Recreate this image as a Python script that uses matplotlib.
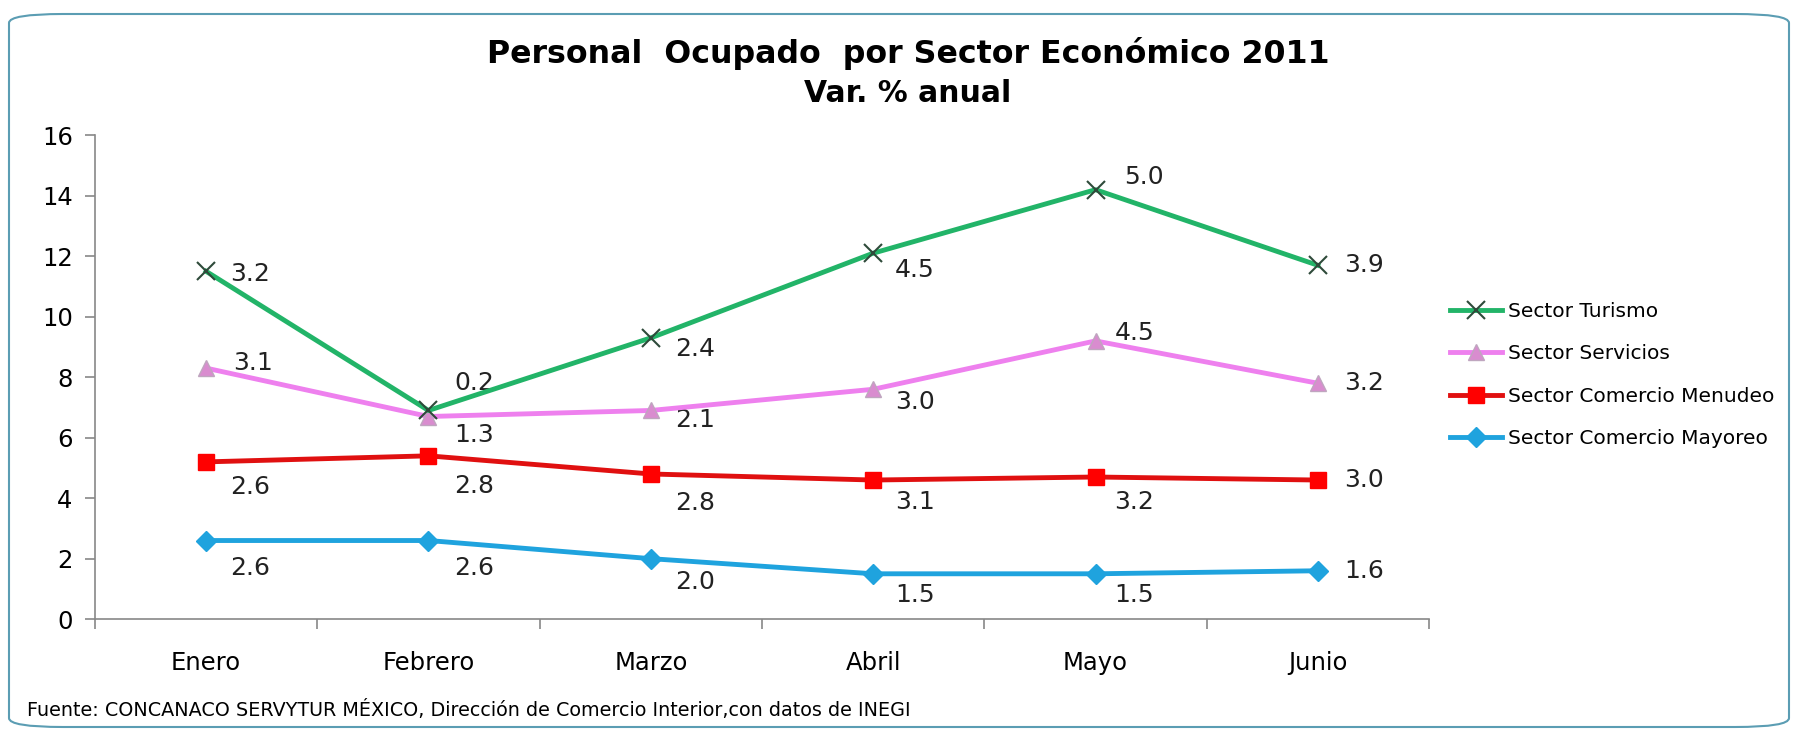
"""Personal ocupado por sector economico 2011 - stacked line chart (var. % anual)."""

import matplotlib

matplotlib.use("Agg")
import matplotlib.pyplot as plt
import numpy as np
from matplotlib.patches import FancyBboxPatch

months = ["Enero", "Febrero", "Marzo", "Abril", "Mayo", "Junio"]

# series in stacking order (bottom first)
mayoreo = [2.6, 2.6, 2.0, 1.5, 1.5, 1.6]
menudeo = [2.6, 2.8, 2.8, 3.1, 3.2, 3.0]
servicios = [3.1, 1.3, 2.1, 3.0, 4.5, 3.2]
turismo = [3.2, 0.2, 2.4, 4.5, 5.0, 3.9]

series_names = ["Sector Comercio Mayoreo", "Sector Comercio Menudeo",
                "Sector Servicios", "Sector Turismo"]

title = "Personal  Ocupado  por Sector Económico 2011"
subtitle = "Var. % anual"
source = "Fuente: CONCANACO SERVYTUR MÉXICO, Dirección de Comercio Interior,con datos de INEGI"


def main() -> None:
    values = np.array([mayoreo, menudeo, servicios, turismo])
    stacked = np.cumsum(values, axis=0)
    x = np.arange(len(months)) + 0.5

    fig = plt.figure(figsize=(17.98, 7.31), dpi=100)
    ax = fig.add_axes([0.0528, 0.153, 0.742, 0.662])

    styles = [
        dict(color="#1FA3DE", marker="D", ms=10, mfc="#1FA3DE", mec="#1FA3DE"),
        dict(color="#E01010", marker="s", ms=12, mfc="#FF0000", mec="#FF0000"),
        dict(color="#EE80EE", marker="^", ms=12, mfc="#D98CCF", mec="#BFA6BF"),
        dict(color="#22B468", marker="x", ms=13, mec="#2E4A3A", mew=1.5),
    ]
    # label offsets in points (dx, dy) per series, per month
    offsets = [
        [(32, -20), (33, -20), (32, -17), (30, -15), (28, -15), (33, 0)],
        [(32, -18), (33, -22), (32, -21), (30, -16), (28, -18), (33, 0)],
        [(34, 4), (33, -13), (32, -7), (30, -9), (28, 6), (33, 0)],
        [(32, -2), (33, 20), (32, -8), (30, -12), (35, 9), (33, 0)],
    ]

    handles = []
    for i in range(len(values)):
        (h,) = ax.plot(x, stacked[i], lw=3.5, label=series_names[i], zorder=3 + i,
                       **styles[i])
        handles.append(h)
        for j in range(len(months)):
            ax.annotate(f"{values[i][j]:.1f}", (x[j], stacked[i][j]),
                        xytext=offsets[i][j], textcoords="offset points",
                        ha="center", va="center", fontsize=18, color="#222222")

    ax.set_xlim(0, len(months))
    ax.set_ylim(0, 16)
    ax.set_yticks(np.arange(0, 17, 2))
    ax.set_xticks(np.arange(0, len(months) + 1))
    ax.set_xticklabels([])
    ax.set_xticks(x, minor=True)
    ax.set_xticklabels(months, minor=True, fontsize=17.5)
    ax.tick_params(axis="x", which="minor", length=0, pad=23)
    ax.tick_params(axis="x", which="major", length=7, color="#888888", width=1.2)
    ax.tick_params(axis="y", length=7, color="#888888", width=1.2, labelsize=17.5, pad=9)
    for s in ("top", "right"):
        ax.spines[s].set_visible(False)
    for s in ("left", "bottom"):
        ax.spines[s].set_color("#888888")
        ax.spines[s].set_linewidth(1.2)

    fig.legend(handles[::-1], series_names[::-1], loc="center left",
               bbox_to_anchor=(1440 / 1798, 1 - 375 / 731), frameon=False,
               fontsize=14.5, handlelength=2.6, handletextpad=0.3, labelspacing=1.15,
               borderpad=0)

    fig.text(908 / 1798, 1 - 54 / 731, title, ha="center", va="center",
             fontsize=22.8, fontweight="bold")
    fig.text(908 / 1798, 1 - 93 / 731, subtitle, ha="center", va="center",
             fontsize=21.5, fontweight="bold")
    fig.text(27 / 1798, 1 - 710 / 731, source, ha="left", va="center", fontsize=13.8)

    frame = FancyBboxPatch((9 / 1798, 4 / 731), 1780 / 1798, 713 / 731,
                           boxstyle="round,pad=0,rounding_size=0.03",
                           transform=fig.transFigure, fill=False,
                           edgecolor="#5B9DB3", lw=1.5, mutation_aspect=731 / 1798)
    fig.patches.append(frame)

    fig.savefig("out.png", dpi=100)


if __name__ == "__main__":
    main()
